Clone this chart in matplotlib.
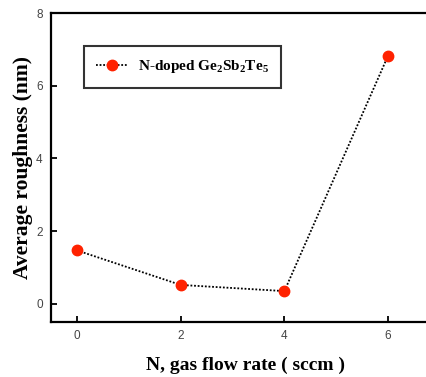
import matplotlib
matplotlib.use("Agg")
import matplotlib.pyplot as plt

flow_rate = [0, 2, 4, 6]
roughness = [1.47, 0.52, 0.35, 6.83]
x_ticks = [0, 2, 4, 6]
y_ticks = [0, 2, 4, 6, 8]

plt.rcParams['mathtext.fontset'] = 'custom'
plt.rcParams['mathtext.rm'] = 'Liberation Serif:bold'
plt.rcParams['mathtext.it'] = 'Liberation Serif:bold'
plt.rcParams['mathtext.bf'] = 'Liberation Serif:bold'
plt.rcParams['mathtext.default'] = 'rm'

fig = plt.figure(figsize=(4.26, 3.77), dpi=100)
ax = fig.add_axes([51/426, 55/377, 389/426, 309/377])

ax.plot(flow_rate, roughness, linestyle=(0, (1, 1)), color='black', linewidth=1.3,
        marker='o', markersize=7.5, markerfacecolor='#ff2200', markeredgecolor='#ff2200',
        label=r'N-doped Ge$_2$Sb$_2$Te$_5$')

ax.set_xlim(-0.5, 7.0)
ax.set_ylim(-0.5, 8)
ax.set_xticks(x_ticks)
ax.set_yticks(y_ticks)
ax.tick_params(direction='in', length=4, width=1.3, labelsize=8.5, labelcolor='#444444',
               pad=6)
for lab in ax.get_xticklabels() + ax.get_yticklabels():
    lab.set_family('Liberation Sans')

for s in ax.spines.values():
    s.set_linewidth(1.6)

ax.set_xlabel('N, gas flow rate ( sccm )', fontfamily='Liberation Serif', fontweight='bold',
              fontsize=14, labelpad=10)
ax.set_ylabel('Average roughness (nm)', fontfamily='Liberation Serif', fontweight='bold',
              fontsize=15.5, labelpad=2)

leg = ax.legend(loc='upper left', bbox_to_anchor=(0.085, 0.893), borderaxespad=0,
                fancybox=False, frameon=True, handlelength=2.0, borderpad=0.8,
                handletextpad=0.7,
                prop={'family': 'Liberation Serif', 'weight': 'bold', 'size': 11})
leg.get_frame().set_edgecolor('black')
leg.get_frame().set_linewidth(1.5)

fig.savefig('out.png', dpi=100)
